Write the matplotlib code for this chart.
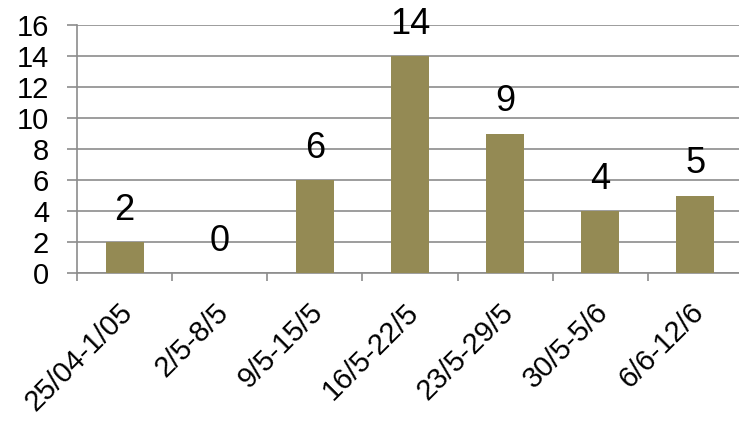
import numpy as np
import matplotlib.pyplot as plt
from matplotlib.transforms import ScaledTranslation

weeks = ['25/04-1/05', '2/5-8/5', '9/5-15/5', '16/5-22/5', '23/5-29/5', '30/5-5/6', '6/6-12/6']
counts = [2, 0, 6, 14, 9, 4, 5]
yticks = [0, 2, 4, 6, 8, 10, 12, 14, 16]

plt.rcParams['font.family'] = ['Liberation Sans', 'DejaVu Sans']

grid_c = '#8c8c8c'
bar_c = '#948a54'

fig = plt.figure(figsize=(7.39, 4.21), dpi=100)
ax = fig.add_axes([0.1042, 0.3515, 0.9012, 0.589])

x = np.arange(len(weeks))
ax.bar(x, counts, width=0.4, color=bar_c, zorder=3)

for xi, v in zip(x, counts):
    ax.annotate(str(v), (xi, v), xytext=(0, 23), textcoords='offset points',
                ha='center', va='center', fontsize=26, zorder=4)

ax.set_xlim(-0.5, len(weeks) - 0.5)
ax.set_ylim(0, 16)
ax.set_yticks(yticks)
ax.set_yticklabels([str(t) for t in yticks], fontsize=21)
ax.tick_params(axis='y', length=7, width=1.2, color=grid_c, pad=13)
ax.yaxis.grid(True, color=grid_c, lw=1.2, zorder=0)

# category labels at centres, tick marks on the boundaries
ax.set_xticks(x)
ax.set_xticklabels(weeks, fontsize=21, rotation=45, ha='right', va='center',
                   rotation_mode='anchor')
ax.tick_params(axis='x', which='major', length=0, pad=25)
ax.set_xticks(np.arange(len(weeks) + 1) - 0.5, minor=True)
ax.tick_params(axis='x', which='minor', length=6, width=1.2, color=grid_c)
shift = ScaledTranslation(4 / 100, 0, fig.dpi_scale_trans)
for lab in ax.get_xticklabels():
    lab.set_transform(lab.get_transform() + shift)

for s in ['top', 'right']:
    ax.spines[s].set_visible(False)
for s in ['left', 'bottom']:
    ax.spines[s].set_color(grid_c)
    ax.spines[s].set_linewidth(1.2)
ax.set_axisbelow(True)

fig.savefig('out.png', dpi=100)
